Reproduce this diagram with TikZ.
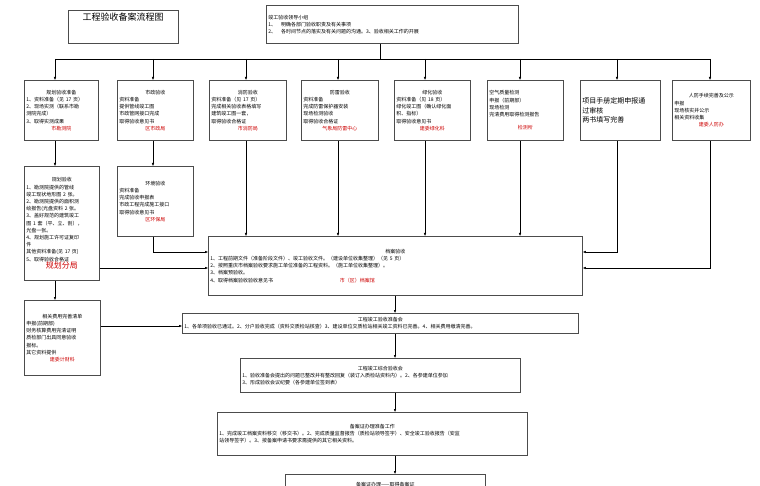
\documentclass[tikz,border=0pt]{standalone}
\usepackage{fontspec}
\setmainfont{Noto Sans CJK SC}
\usetikzlibrary{arrows.meta}
\newcommand{\ctr}[1]{\makebox[\linewidth][c]{#1}}
\newcommand{\rd}[1]{\ctr{\textcolor{red!80!black}{#1}}}
\begin{document}
\begin{tikzpicture}[x=1pt, y=-1pt,
  box/.style={draw, thick, draw=black!70, rectangle, anchor=north west, inner sep=2pt,
    align=left, font=\fontsize{5}{7.2}\selectfont},
  arr/.style={-{Latex[length=3pt,width=2.5pt]}, thin}]
\useasboundingbox (0,0) rectangle (760,486);
% title and leading group
\node (title) [box, minimum width=110pt, minimum height=33pt, align=center, anchor=center,
  font=\fontsize{9}{11}\selectfont] at (123,26.5) {工程验收备案流程图\\[8pt]};
\node (lead) [box, text width=248pt, minimum height=38pt, anchor=north west] at (266,5)
  {竣工验收领导小组\\1、\quad 明确各部门验收职责及有关事项\\2、\quad 各时间节点的落实及有关问题的沟通。3、验收相关工作的开展};
% first row
\node (plan) [box, text width=70pt, minimum height=60pt] at (24,80)
  {\ctr{规划验收准备}\\1、资料准备（见 17 页）\\2、现场实测（联系市勘\\测院完成）\\3、取得实测成果\\\rd{市勘测院}};
\node (muni) [box, text width=72pt, minimum height=60pt] at (117,80)
  {\ctr{市政验收}\\资料准备\\提供管线竣工图\\市政管网接口完成\\取得验收意见书\\\rd{区市政局}};
\node (fire) [box, text width=73pt, minimum height=60pt] at (209,80)
  {\ctr{消防验收}\\资料准备（见 17 页）\\完成相关验收表格填写\\建筑竣工图一套，\\取得验收合格证\\\rd{市消防局}};
\node (thund) [box, text width=73pt, minimum height=60pt] at (301,80)
  {\ctr{防雷验收}\\资料准备\\完成防雷保护器安装\\现场检测验收\\取得验收合格证\\\rd{气象局防雷中心}};
\node (green) [box, text width=72pt, minimum height=60pt] at (394,80)
  {\ctr{绿化验收}\\资料准备（见 18 页）\\绿化竣工图（确认绿化面\\积、指标）\\取得验收意见书\\\rd{建委绿化科}};
\node (air) [box, text width=72pt, minimum height=60pt] at (487,80)
  {空气质量检测\\申报（前期部）\\现场检测\\完清费用取得检测报告\\[6pt]\rd{检测所}};
\node (manual) [box, text width=76pt, minimum height=60pt, font=\fontsize{7}{9.5}\selectfont] at (580,80)
  {项目手册定期申报通\\过审核\\两书填写完善};
\node (civil) [box, text width=74pt, minimum height=60pt] at (672,80)
  {\ctr{人防手续完善及公示}\\申报\\现场核实并公示\\相关资料收集\\\rd{建委人防办}};
% second row
\node (planchk) [box, text width=71pt, minimum height=114pt] at (24,166)
  {\ctr{规划验收}\\1、勘测院提供的管线\\竣工现状地形图 2 张。\\2、勘测院提供的面积测\\绘报告(光盘资料 2 张。\\3、盖好规范的建筑竣工\\图 1 套（平、立、剖），\\光盘一张。\\4、规划施工许可证复印\\件\\其他资料准备(见 17 页)\\5、取得验收合格证\\\ctr{\textcolor{red!80!black}{\fontsize{8}{9}\selectfont 规划分局}}};
\node (env) [box, text width=72pt, minimum height=70pt] at (117,166)
  {\ctr{环境验收}\\资料准备\\完成验收申报表\\市政工程完成施工接口\\取得验收意见书\\\rd{区环保局}};
\node (fee) [box, text width=72pt, minimum height=75pt] at (24,300)
  {\ctr{相关费用完善清单}\\申报(前期部)\\财务核算费用完清证明\\质检部门出具同意验收\\报标。\\其它资料提供\\\rd{建委计财科}};
% main chain
\node (arch) [box, text width=370pt, minimum height=59pt] at (208,236)
  {\ctr{档案验收}\\1、工程前期文件（准备阶段文件）、竣工验收文件。（建设单位收集整理）（见 5 页）\\2、按照重庆市档案验收要求施工单位准备的工程资料。（施工单位收集整理）。\\3、档案预验收。\\4、取得档案验收验收意见书 \hspace{65pt}\textcolor{red!80!black}{市（区）档案馆}};
\node (prep) [box, text width=392pt, minimum height=20pt] at (182,313)
  {\ctr{工程竣工验收准备会}\\1、各单项验收已通过。2、分户验收完成（资料交质检站核查）3、建设单位交质检站相关竣工资料已完善。4、相关费用缴清完善。};
\node (meet) [box, text width=276pt, minimum height=34pt] at (240,358)
  {\ctr{工程竣工综合验收会}\\1、验收准备会提出的问题已整改并有整改回复（装订入质检站资料内）。2、各参建单位参加\\3、形成验收会议纪要（各参建单位签到表）};
\node (rec) [box, text width=306pt, minimum height=43pt] at (217,412)
  {\ctr{备案证办理准备工作}\\1、完成竣工档案资料移交（移交书）。2、完成质量监督报告（质检站领导签字）、安全竣工验收报告（安监\\站领导签字）。3、按备案申请书要求需提供的其它相关资料。};
\node (final) [box, text width=196pt, minimum height=20pt] at (285,474)
  {\ctr{备案证办理——取得备案证}};
% connectors
\coordinate (bus) at (380,59);
\draw (lead.south -| bus) -- (bus);
\draw (55,59) -- (710,59);
\foreach \n/\x in {plan/55, muni/153, fire/246, thund/338, green/425, air/520, manual/617, civil/710}
  \draw[arr] (\x,59) -- (\n.north -| \x,0);
\draw[arr] (plan.south -| 55,0) -- (planchk.north -| 55,0);
\draw[arr] (muni.south -| 153,0) -- (env.north -| 153,0);
\draw[arr] (planchk.south -| 55,0) -- (fee.north -| 55,0);
\foreach \n/\x in {fire/246, thund/338, green/425, air/520}
  \draw[arr] (\n.south -| \x,0) -- (arch.north -| \x,0);
\draw[arr] (manual.south -| 617,0) |- (arch.east |- 0,252);
\draw[arr] (civil.south -| 710,0) |- (arch.east |- 0,268);
\draw[arr] (env.south -| 153,0) |- (arch.west |- 0,252);
\draw[arr] (planchk.east |- 0,268) -- (arch.west |- 0,268);
\draw[arr] (fee.east |- 0,326) -- (prep.west |- 0,326);
\draw[arr] (arch.south -| 395,0) -- (prep.north -| 395,0);
\draw[arr] (prep.south -| 395,0) -- (meet.north -| 395,0);
\draw[arr] (meet.south -| 395,0) -- (rec.north -| 395,0);
\draw[arr] (rec.south -| 395,0) -- (final.north -| 395,0);
\end{tikzpicture}
\end{document}
